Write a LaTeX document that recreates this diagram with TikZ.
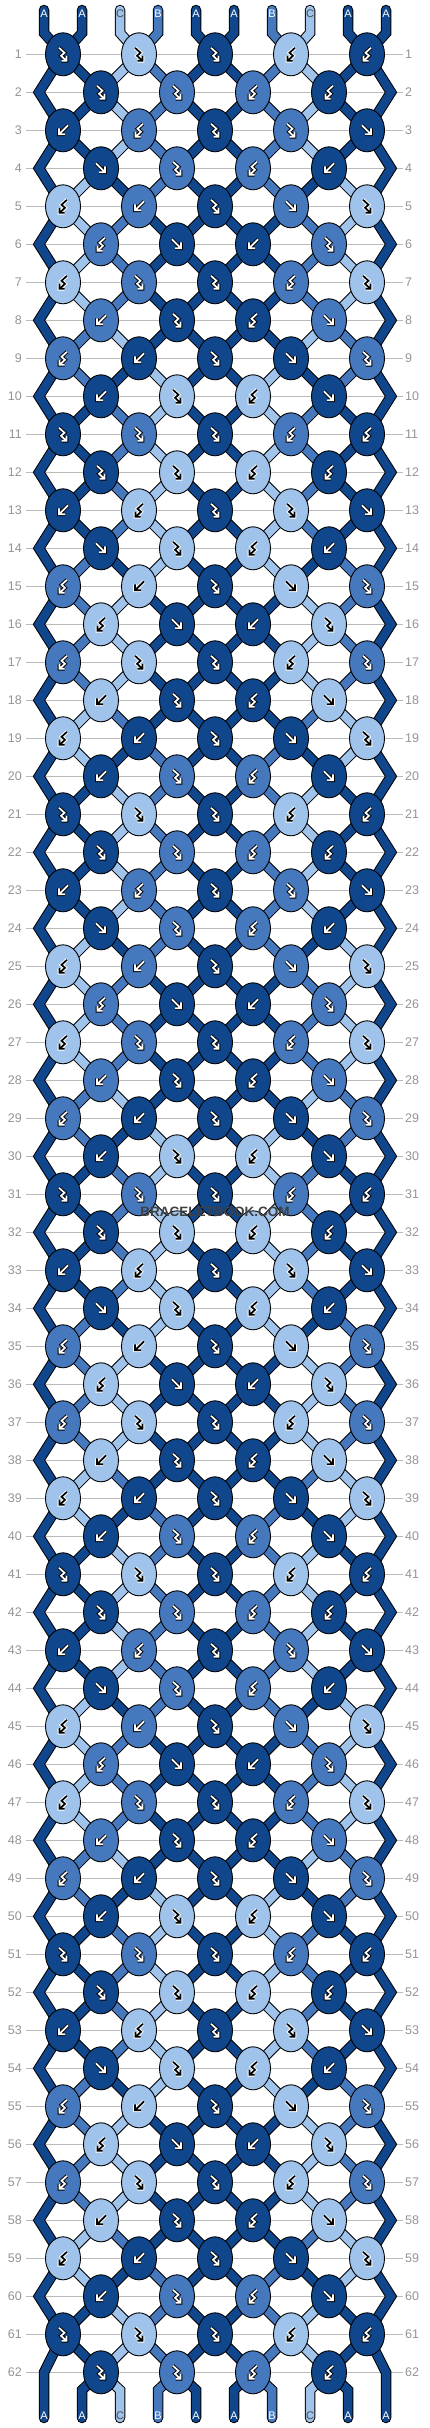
\documentclass[tikz,border=0pt]{standalone}
\usepackage{fontspec}
\setmainfont{Liberation Sans}
\usetikzlibrary{arrows.meta,shapes.geometric}
\pgfdeclarelayer{paper}
\pgfdeclarelayer{grid}
\pgfdeclarelayer{strokes}
\pgfdeclarelayer{fills}
\pgfsetlayers{paper,grid,strokes,fills,main}
\definecolor{cA}{HTML}{10468C}
\definecolor{cB}{HTML}{4678BE}
\definecolor{cC}{HTML}{A0C3EB}
\colorlet{iA}{white}\colorlet{iB}{white}\colorlet{iC}{black}
\colorlet{oA}{black}\colorlet{oB}{black}\colorlet{oC}{white}
\colorlet{tA}{white}\colorlet{tB}{white}\colorlet{tC}{black!70}
% knot types, period of 10 rows: f forward, b backward, F forward-backward, B backward-forward
\expandafter\def\csname ty1\endcsname{F,F,F,B,B}
\expandafter\def\csname ty2\endcsname{F,F,B,B}
\expandafter\def\csname ty3\endcsname{b,B,F,F,f}
\expandafter\def\csname ty4\endcsname{f,F,B,b}
\expandafter\def\csname ty5\endcsname{B,b,F,f,F}
\expandafter\def\csname ty6\endcsname{B,f,b,F}
\expandafter\def\csname ty7\endcsname{B,F,F,B,F}
\expandafter\def\csname ty8\endcsname{b,F,B,f}
\expandafter\def\csname ty9\endcsname{B,b,F,f,F}
\expandafter\def\csname ty10\endcsname{b,F,B,f}
\newcommand\strandO[2]{\draw[strandout] #2;}
\newcommand\strandI[2]{\draw[strandin,color=#1] #2;}
\newcommand\iconpath[2]{%
  \if f#1\draw[#2] (-5,-5) -- (4,4) (4,-2) -- (4,4) -- (-2,4);\fi
  \if b#1\draw[#2] (5,-5) -- (-4,4) (-4,-2) -- (-4,4) -- (2,4);\fi
  \if F#1\draw[#2] (-4,-6.5) -- (1.5,-1.5) -- (-2,1.5) -- (3.5,6.5) (3.5,1.5) -- (3.5,6.5) -- (-1.5,6.5);\fi
  \if B#1\draw[#2] (4,-6.5) -- (-1.5,-1.5) -- (2,1.5) -- (-3.5,6.5) (-3.5,1.5) -- (-3.5,6.5) -- (1.5,6.5);\fi}
\newcommand\knoticon[4]{%
  \begin{scope}[shift={(#4.center)}]
  \iconpath{#1}{line width=3.6pt,draw=#3,line cap=square,line join=miter}
  \iconpath{#1}{line width=1.7pt,draw=#2,line join=miter}
  \end{scope}}
\newcommand\allstrands{%
  % from the top
  \foreach \pp in {0,...,9} {
    \pgfmathtruncatemacro\ka{\pp/2}
    \edef\cc{c\csname c0-\pp\endcsname}
    \strand{\cc}{(t\pp) -- (tb\pp) -- (k1-\ka.center)}
  }
  % between knots
  \foreach \rr in {1,...,61} {
    \pgfmathtruncatemacro\rn{\rr+1}
    \pgfmathtruncatemacro\off{1-mod(\rr,2)}
    \foreach \pp in {1,...,8} {
      \pgfmathtruncatemacro\ka{(\pp-\off)/2}
      \pgfmathtruncatemacro\kb{(\pp-1+\off)/2}
      \edef\cc{c\csname c\rr-\pp\endcsname}
      \strand{\cc}{(k\rr-\ka.center) -- (k\rn-\kb.center)}
    }
  }
  % along the edges
  \foreach \rr in {2,4,...,62} {
    \pgfmathtruncatemacro\rp{\rr-1}
    \pgfmathtruncatemacro\rn{\rr+1}
    \edef\colL{c\csname c\rp-0\endcsname}
    \edef\colR{c\csname c\rp-9\endcsname}
    \ifnum\rr=62
      \strand{\colL}{(k\rp-0.center) -- (eL\rr) -- (b0)}
      \strand{\colR}{(k\rp-4.center) -- (eR\rr) -- (b9)}
    \else
      \strand{\colL}{(k\rp-0.center) -- (eL\rr) -- (k\rn-0.center)}
      \strand{\colR}{(k\rp-4.center) -- (eR\rr) -- (k\rn-4.center)}
    \fi
  }
  % to the bottom
  \foreach \pp in {1,...,8} {
    \pgfmathtruncatemacro\ka{(\pp-1)/2}
    \edef\cc{c\csname c62-\pp\endcsname}
    \strand{\cc}{(k62-\ka.center) -- (bb\pp) -- (b\pp)}
  }}
\begin{document}
\begin{tikzpicture}[x=1pt,y=-1pt,
  knot/.style={shape=ellipse, draw=black, line width=0.9pt, minimum width=35pt, minimum height=43pt, inner sep=0pt},
  gridline/.style={draw=black!27, line width=0.9pt},
  rowlab/.style={text=black!42, font=\fontsize{12.5}{14}\selectfont, inner sep=0pt},
  strlab/.style={font=\fontsize{11}{12}\selectfont, inner sep=0pt},
  strandout/.style={draw=black, line width=10.5pt, line cap=round, line join=miter},
  strandin/.style={line width=8.5pt, line cap=round, line join=miter}]
\useasboundingbox (0,0) rectangle (430,2428);
\begin{pgfonlayer}{paper}
\fill[white] (0,0) rectangle (430,2428);
\end{pgfonlayer}
% initial strings
\foreach \pp/\ss in {0/A,1/A,2/C,3/B,4/A,5/A,6/B,7/C,8/A,9/A} {
  \expandafter\xdef\csname st\pp\endcsname{\ss}
  \expandafter\xdef\csname c0-\pp\endcsname{\ss}
  \pgfmathsetmacro\x{44+38*\pp}
  \coordinate (t\pp) at (\x,10);
  \coordinate (tb\pp) at (\x,33);
  \coordinate (bb\pp) at (\x,2390);
  \coordinate (b\pp) at (\x,2418);
  \node[strlab,text=t\ss] (tl\pp) at (\x,13.5) {\ss};
}
% knots, row by row
\foreach \rr in {1,...,62} {
  \pgfmathtruncatemacro\m{mod(\rr-1,10)+1}
  \pgfmathtruncatemacro\off{1-mod(\rr,2)}
  \pgfmathsetmacro\y{54.3+38*(\rr-1)}
  \coordinate (gl\rr) at (26,\y);
  \coordinate (gr\rr) at (403,\y);
  \node[rowlab,anchor=east] (ll\rr) at (22,\y) {\rr};
  \node[rowlab,anchor=west] (rl\rr) at (405,\y) {\rr};
  \ifnum\off=1
    \ifnum\rr=62
      \coordinate (eL\rr) at (44,\y); \coordinate (eR\rr) at (386,\y);
    \else
      \coordinate (eL\rr) at (39,\y); \coordinate (eR\rr) at (391,\y);
    \fi
  \fi
  \edef\tylist{\csname ty\m\endcsname}
  \foreach \ty [count=\kk from 0] in \tylist {
    \pgfmathtruncatemacro\ii{2*\kk+\off}
    \pgfmathtruncatemacro\jj{\ii+1}
    \edef\lc{\csname st\ii\endcsname}
    \edef\rc{\csname st\jj\endcsname}
    \edef\kc{\rc}\def\sw{0}
    \if f\ty \edef\kc{\lc}\def\sw{1}\fi
    \if F\ty \edef\kc{\lc}\fi
    \if b\ty \def\sw{1}\fi
    \pgfmathsetmacro\x{63+76*\kk+38*\off}
    \node[knot,fill=c\kc] (k\rr-\kk) at (\x,\y) {};
    \knoticon{\ty}{i\kc}{o\kc}{k\rr-\kk}
    \if1\sw
      \expandafter\xdef\csname st\ii\endcsname{\rc}
      \expandafter\xdef\csname st\jj\endcsname{\lc}
    \fi
  }
  \foreach \pp in {0,...,9} {
    \expandafter\xdef\csname c\rr-\pp\endcsname{\csname st\pp\endcsname}
  }
}
\begin{pgfonlayer}{grid}
\foreach \rr in {1,...,62} {\draw[gridline] (gl\rr) -- (gr\rr);}
\end{pgfonlayer}
\begin{pgfonlayer}{strokes}
\let\strand\strandO
\allstrands
\end{pgfonlayer}
\begin{pgfonlayer}{fills}
\let\strand\strandI
\allstrands
\end{pgfonlayer}
\foreach \pp in {0,...,9} {
  \pgfmathsetmacro\x{44+38*\pp}
  \edef\lt{\csname c62-\pp\endcsname}
  \node[strlab,text=t\lt] (bl\pp) at (\x,2416) {\lt};
}
\node[font=\bfseries\fontsize{13.5}{15}\selectfont, text=black!75, inner sep=0pt] (wm) at (215,1212) {BRACELETBOOK.COM};
\end{tikzpicture}
\end{document}
